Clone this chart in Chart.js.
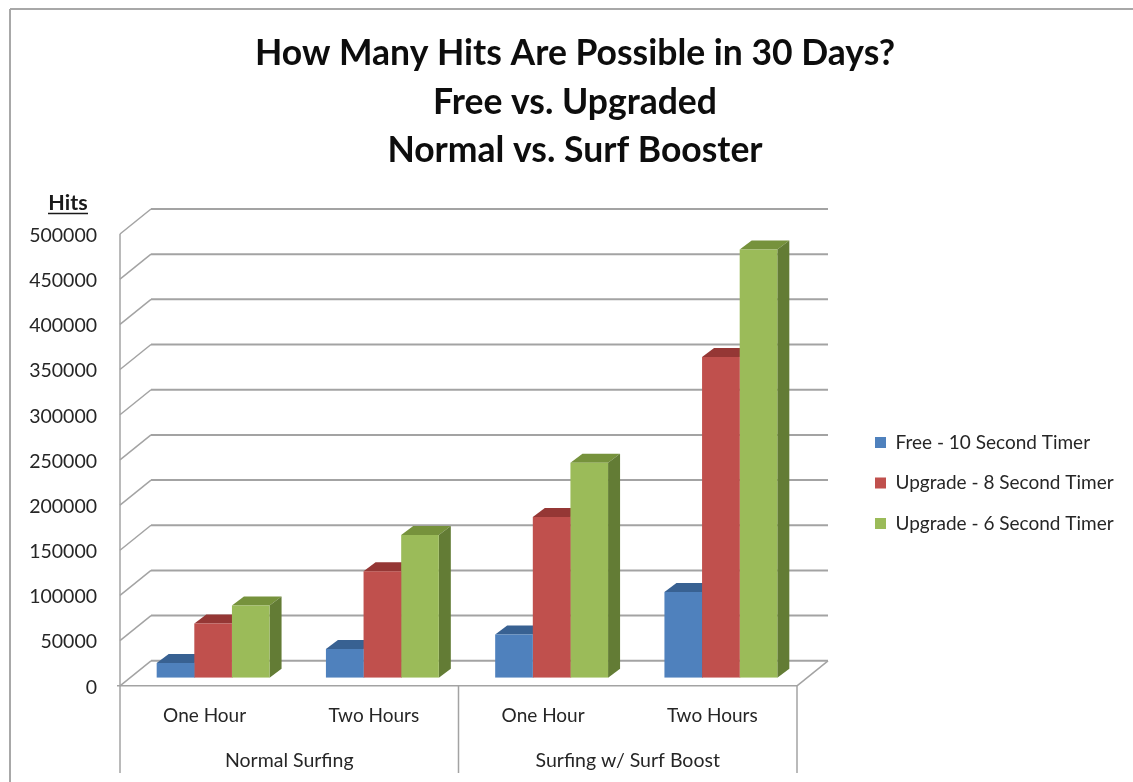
<!DOCTYPE html>
<html lang="en">
  <head>
    <meta charset="utf-8">
    <title>How Many Hits Are Possible in 30 Days?</title>
    <style>
      html, body { margin: 0; padding: 0; background: white; }
      .chartBox { width: 1133px; height: 782px; }
    </style>
  </head>
  <body>
    <div class="chartBox">
      <canvas id="myChart"></canvas>
    </div>

    <script src="https://cdn.jsdelivr.net/npm/chart.js/dist/chart.umd.min.js"></script>
    <script>
    // data
    const titleLines = ['How Many Hits Are Possible in 30 Days?', 'Free vs. Upgraded', 'Normal vs. Surf Booster'];
    const categories = ['One Hour', 'Two Hours', 'One Hour', 'Two Hours'];
    const groups = ['Normal Surfing', 'Surfing w/ Surf Boost'];
    const seriesNames = ['Free - 10 Second Timer', 'Upgrade - 8 Second Timer', 'Upgrade - 6 Second Timer'];
    const freeTen = [16500, 32000, 48000, 95000];
    const upgradeEight = [60000, 118000, 178000, 355000];
    const upgradeSix = [80000, 158000, 238000, 474000];

    const FONT = 'Lato, Carlito, sans-serif';
    const GREY = '#a3a3a3';
    const TEXT = '#262626';
    const faces = [
      { front: '#4f81bd', top: '#386192', side: '#386192' },
      { front: '#c0504d', top: '#953735', side: '#953735' },
      { front: '#9bbb59', top: '#76923c', side: '#637c35' }
    ];
    const WALL_X = 31, WALL_Y = 25;   // depth of the back wall
    const BAR_X = 8.5, BAR_Y = 8;     // bars stand inside the floor
    const DEPTH_X = 12, DEPTH_Y = 9;  // depth of one bar

    function line(ctx, x1, y1, x2, y2) {
      ctx.beginPath();
      ctx.moveTo(x1, y1);
      ctx.lineTo(x2, y2);
      ctx.stroke();
    }

    function poly(ctx, color, pts) {
      ctx.fillStyle = color;
      ctx.beginPath();
      pts.forEach((p, i) => i ? ctx.lineTo(p[0], p[1]) : ctx.moveTo(p[0], p[1]));
      ctx.closePath();
      ctx.fill();
    }

    // 3D look: walls, floor, sides of the bars, multi level axis
    const excel3d = {
      id: 'excel3d',
      beforeLayout(chart) {
        // legend keeps the whole strip right of the plot
        const legend = chart.legend;
        if (!legend.wideFit) {
          const fit = legend.fit;
          legend.fit = function () { fit.call(this); this.width = 336; };
          legend.wideFit = true;
        }
      },
      afterLayout(chart) {
        const legend = chart.legend;
        legend.left = 853.5;
        legend.right = 1133;
        legend.top += 23;
        legend.bottom += 23;
      },
      beforeDraw(chart) {
        const { ctx, scales: { x, y } } = chart;
        ctx.save();
        // frame
        ctx.strokeStyle = '#a8a8a8';
        ctx.lineWidth = 2;
        line(ctx, 10, 9, 1133, 9);
        line(ctx, 10, 9, 10, 782);
        // grid on the back wall
        ctx.strokeStyle = GREY;
        y.ticks.forEach(t => {
          const py = y.getPixelForValue(t.value);
          ctx.lineWidth = 1.5;
          line(ctx, x.left, py, x.left + WALL_X, py - WALL_Y);
          ctx.lineWidth = 2;
          line(ctx, x.left + WALL_X, py - WALL_Y, x.right + WALL_X, py - WALL_Y);
        });
        const y0 = y.getPixelForValue(0);
        ctx.lineWidth = 1.5;
        line(ctx, x.right, y0, x.right + WALL_X, y0 - WALL_Y);
        // axis lines and level separators
        line(ctx, x.left, y.top, x.left, y0);
        line(ctx, x.left - 3, y0, x.right, y0);
        const mid = (x.left + x.right) / 2;
        [x.left, mid, x.right].forEach(px => line(ctx, px, y0, px, 773));
        // axis caption
        ctx.fillStyle = '#1a1a1a';
        ctx.font = 'bold 21.5px ' + FONT;
        ctx.textAlign = 'center';
        ctx.textBaseline = 'middle';
        ctx.fillText('Hits', 68, 203);
        ctx.lineWidth = 1.5;
        ctx.strokeStyle = '#1a1a1a';
        line(ctx, 48, 213.5, 88, 213.5);
        ctx.restore();
      },
      beforeDatasetsDraw(chart) {
        const { ctx } = chart;
        // top and side faces go under the front faces
        chart.data.datasets.forEach((ds, i) => {
          chart.getDatasetMeta(i).data.forEach(bar => {
            const l = bar.x - bar.width / 2 + BAR_X;
            const r = bar.x + bar.width / 2 + BAR_X;
            const t = bar.y - BAR_Y;
            const b = bar.base - BAR_Y;
            poly(ctx, faces[i].top, [[l, t], [l + DEPTH_X, t - DEPTH_Y], [r + DEPTH_X, t - DEPTH_Y], [r, t]]);
            poly(ctx, faces[i].side, [[r, t], [r + DEPTH_X, t - DEPTH_Y], [r + DEPTH_X, b - DEPTH_Y], [r, b]]);
          });
        });
        ctx.save();
        ctx.translate(BAR_X, -BAR_Y);
      },
      afterDatasetsDraw(chart) {
        chart.ctx.restore();
      }
    };

    const seriesValues = [freeTen, upgradeEight, upgradeSix];

    const config = {
      type: 'bar',
      data: {
        labels: categories,
        datasets: seriesNames.map((name, i) => ({
          label: name,
          data: seriesValues[i],
          backgroundColor: faces[i].front,
          categoryPercentage: 0.667,
          barPercentage: 1
        }))
      },
      options: {
        responsive: false,
        animation: false,
        layout: { padding: { left: 17, bottom: 7 } },
        plugins: {
          title: {
            display: true,
            text: titleLines,
            color: '#0d0d0d',
            font: { family: FONT, size: 35.5, weight: 'bold', lineHeight: 48.5 / 35.5 },
            padding: { top: 29.5, bottom: 59 }
          },
          legend: {
            position: 'right',
            fullSize: false,
            labels: {
              boxWidth: 11,
              boxHeight: 11,
              padding: 21.5,
              color: TEXT,
              font: { family: FONT, size: 19 }
            }
          },
          tooltip: { enabled: false }
        },
        scales: {
          y: {
            min: 0,
            max: 500000,
            grid: { display: false, drawTicks: false },
            border: { display: false },
            afterFit(scale) { scale.width = 103; },
            ticks: {
              stepSize: 50000,
              padding: 23,
              labelOffset: 1.5,
              color: TEXT,
              font: { family: FONT, size: 19.5 },
              callback: value => String(value)
            }
          },
          x: {
            grid: { display: false, drawTicks: false },
            border: { display: false },
            ticks: {
              padding: 19,
              color: TEXT,
              maxRotation: 0,
              font: { family: FONT, size: 19 }
            }
          },
          x2: {
            type: 'category',
            labels: groups,
            position: 'bottom',
            grid: { display: false, drawTicks: false },
            border: { display: false },
            ticks: {
              padding: 2.5,
              color: TEXT,
              maxRotation: 0,
              font: { family: FONT, size: 19.5 }
            }
          }
        }
      },
      plugins: [excel3d]
    };

    const canvas = document.getElementById('myChart');
    canvas.width = 1133;
    canvas.height = 782;
    const myChart = new Chart(canvas, config);
    </script>
  </body>
</html>
